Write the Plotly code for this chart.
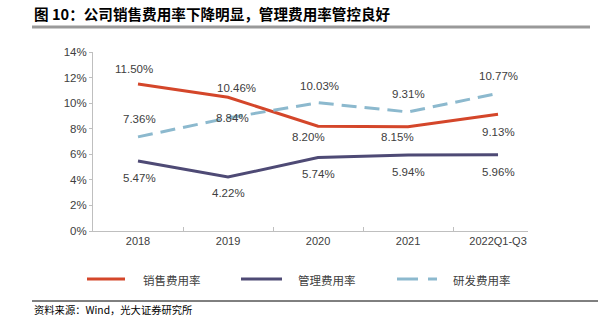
import plotly.graph_objects as go

categories = ["2018", "2019", "2020", "2021", "2022Q1-Q3"]
sales_rate = [11.50, 10.46, 8.20, 8.15, 9.13]
admin_rate = [5.47, 4.22, 5.74, 5.94, 5.96]
rd_rate = [7.36, 8.84, 10.03, 9.31, 10.77]
series_names = ["销售费用率", "管理费用率", "研发费用率"]
y_ticks = [0, 2, 4, 6, 8, 10, 12, 14]
y_tick_labels = ["0%", "2%", "4%", "6%", "8%", "10%", "12%", "14%"]
title_text = "图 10：公司销售费用率下降明显，管理费用率管控良好"
source_text = "资料来源：Wind，光大证券研究所"

# styling (label offsets in px)
colors = ["#D4462A", "#4E4A75", "#8CB9CE"]
offsets = [
    [(-4, 15), (8, 9), (-10, -11), (-11, -10), (0, -18)],
    [(1, -17), (0, -16), (0, -16), (0, -17), (0, -17)],
    [(1, 18), (4, 0), (1, 17), (0, 18), (0, 17)],
]

FONT = "Liberation Sans, Arial, Noto Sans CJK SC, sans-serif"
CJK = "Noto Sans CJK SC, sans-serif"
W, H = 598, 328
L, R, T, B = 93, 70, 52, 97
PW, PH = W - L - R, H - T - B


def px_x(x):
    return (x - L) / PW


def px_y(y):
    return (H - y - B) / PH


fig = go.Figure()
all_series = [sales_rate, admin_rate, rd_rate]
dashes = ["solid", "solid", "15px,8px"]
for vals, name, col, dash in zip(all_series, series_names, colors, dashes):
    fig.add_trace(go.Scatter(x=categories, y=vals, mode="lines", name=name,
                             line=dict(color=col, width=3, dash=dash),
                             showlegend=False, hoverinfo="skip"))

for vals, offs in zip(all_series, offsets):
    for i, v in enumerate(vals):
        fig.add_annotation(x=i, y=v, text=f"{v:.2f}%", showarrow=False,
                           xshift=offs[i][0], yshift=offs[i][1],
                           font=dict(family=FONT, size=11.5, color="#404040"))

# manual legend
legend_items = [(87, 125, 141), (241, 282, 296), (397, 433, 451)]
for k, (x0, x1, tx) in enumerate(legend_items):
    segs = [(x0, x1)] if k < 2 else [(397, 418), (428, 437)]
    for a, b in segs:
        fig.add_shape(type="line", xref="paper", yref="paper",
                      x0=px_x(a), x1=px_x(b), y0=px_y(279), y1=px_y(279),
                      line=dict(color=colors[k], width=3))
    fig.add_annotation(xref="paper", yref="paper", x=px_x(tx), y=px_y(280),
                       xanchor="left", yanchor="middle",
                       text=series_names[k], showarrow=False,
                       font=dict(family=CJK, size=11.5, color="#404040"))

# title and source
fig.add_annotation(xref="paper", yref="paper", x=px_x(32), y=px_y(14),
                   xanchor="left", yanchor="middle",
                   text="<b>" + title_text + "</b>", showarrow=False,
                   font=dict(family=CJK, size=14.6, color="#000000"))
fig.add_shape(type="line", xref="paper", yref="paper",
              x0=px_x(32), x1=px_x(590), y0=px_y(27), y1=px_y(27),
              line=dict(color="#999999", width=3))
fig.add_shape(type="line", xref="paper", yref="paper",
              x0=px_x(32), x1=px_x(598), y0=px_y(301), y1=px_y(301),
              line=dict(color="#000000", width=1))
fig.add_annotation(xref="paper", yref="paper", x=px_x(32), y=px_y(309),
                   xanchor="left", yanchor="middle",
                   text=source_text, showarrow=False,
                   font=dict(family=CJK, size=10.3, color="#000000"))

fig.update_layout(
    width=W, height=H, margin=dict(l=L, r=R, t=T, b=B),
    paper_bgcolor="white", plot_bgcolor="white",
    xaxis=dict(type="category", range=[-0.5, 4.333], showgrid=False,
               showline=True, linecolor="#BFBFBF", linewidth=1,
               ticks="inside", ticklen=4, tickcolor="#BFBFBF", tickson="boundaries",
               tickfont=dict(family=FONT, size=11, color="#404040"), fixedrange=True),
    yaxis=dict(range=[0, 14], tickvals=y_ticks, ticktext=y_tick_labels, showgrid=False,
               showline=True, linecolor="#BFBFBF", linewidth=1, zeroline=False,
               ticks="outside", ticklen=3, tickcolor="#BFBFBF",
               tickfont=dict(family=FONT, size=11.5, color="#404040"), fixedrange=True),
)
fig.write_html("out.html")
